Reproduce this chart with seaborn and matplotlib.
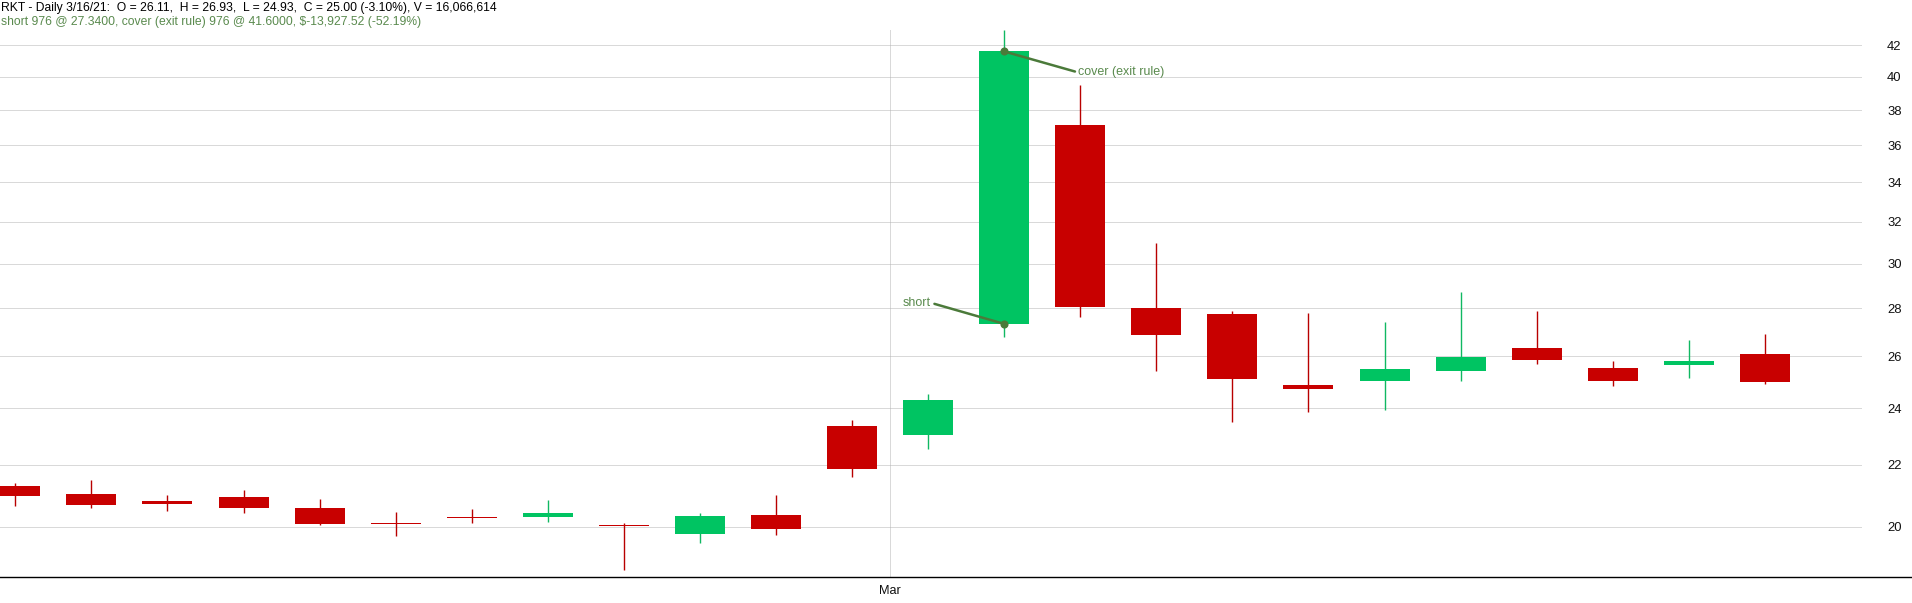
import matplotlib
matplotlib.use("Agg")
import matplotlib.pyplot as plt
from matplotlib.ticker import FixedLocator, FuncFormatter, NullLocator
import seaborn as sns
import pandas as pd
import numpy as np

# ---------------- data ----------------
dates = ["2021-02-10", "2021-02-11", "2021-02-12", "2021-02-16", "2021-02-17", "2021-02-18",
         "2021-02-19", "2021-02-22", "2021-02-23", "2021-02-24", "2021-02-25", "2021-02-26",
         "2021-03-01", "2021-03-02", "2021-03-03", "2021-03-04", "2021-03-05", "2021-03-08",
         "2021-03-09", "2021-03-10", "2021-03-11", "2021-03-12", "2021-03-15", "2021-03-16"]
opens = [21.30, 21.03, 20.81, 20.94, 20.58, 20.12, 20.31, 20.30, 20.06, 19.79, 20.36, 23.36,
         23.05, 27.34, 37.15, 28.03, 27.76, 24.88, 25.05, 25.44, 26.34, 25.54, 25.67, 26.11]
highs = [21.39, 21.49, 21.00, 21.16, 20.87, 20.46, 20.55, 20.84, 20.11, 20.43, 21.00, 23.58,
         24.54, 43.00, 39.51, 30.98, 27.89, 27.80, 27.42, 28.72, 27.89, 25.82, 26.67, 26.93]
lows = [20.66, 20.59, 20.50, 20.44, 20.06, 19.72, 20.12, 20.14, 18.72, 19.51, 19.75, 21.60,
        22.56, 26.80, 27.62, 25.44, 23.51, 23.88, 23.95, 25.05, 25.70, 24.86, 25.16, 24.93]
closes = [20.98, 20.69, 20.72, 20.59, 20.09, 20.08, 20.27, 20.43, 20.02, 20.33, 19.94, 21.87,
          24.31, 41.60, 28.07, 26.88, 25.12, 24.74, 25.50, 25.98, 25.86, 25.05, 25.82, 25.00]
y_ticks = [20, 22, 24, 26, 28, 30, 32, 34, 36, 38, 40, 42]
trade_dates = ["2021-03-02", "2021-03-02"]
trade_prices = [27.34, 41.60]
trade_labels = ["short", "cover (exit rule)"]
header1 = ("RKT - Daily 3/16/21:  O = 26.11,  H = 26.93,  L = 24.93,  "
           "C = 25.00 (-3.10%), V = 16,066,614")
header2 = ("short 976 @ 27.3400, cover (exit rule) 976 @ 41.6000, "
           "$-13,927.52 (-52.19%)")

df = pd.DataFrame({"date": pd.to_datetime(dates), "open": opens, "high": highs,
                   "low": lows, "close": closes})
df["pos"] = np.arange(len(df))
df["up"] = df["close"] >= df["open"]

# ---------------- style ----------------
sns.set_style("white")
plt.rcParams["font.family"] = ["Liberation Sans", "DejaVu Sans"]

UP = "#00c462"
UP_WICK = "#10b862"
DOWN = "#c80000"
DOWN_WICK = "#b80000"
GRID = "#b4b4b4"
TRADE_TXT = "#5a8a4e"
TRADE_LINE = "#4b7a3a"

W, H = 1912, 603
fig = plt.figure(figsize=(W / 100, H / 100), dpi=100)
ax_top_px, ax_bot_px = 30, 577
ax = fig.add_axes([0, (H - ax_bot_px) / H, 1, (ax_bot_px - ax_top_px) / H])

x0_px, step_px = 15.3, 76.07
ax.set_xlim((0 - x0_px) / step_px, (W - x0_px) / step_px)
grid_right = (1861 - x0_px) / step_px
ax.set_yscale("log")
ax.set_ylim(18.51, 43.0)

# grid
xl = ax.get_xlim()
ax.hlines(y_ticks, xl[0], grid_right, colors=GRID, linewidth=0.72,
          linestyles=(0, (1, 1)), zorder=0)
month = df["date"].dt.month.values
mar_pos = df["pos"][np.argmax(month == 3)] - 0.5
ax.axvline(mar_pos, color=GRID, linewidth=0.72, linestyle=(0, (1, 1)), zorder=0)

# candles
wick_colors = np.where(df["up"], UP_WICK, DOWN_WICK)
body_colors = np.where(df["up"], UP, DOWN)
ax.vlines(df["pos"], df["low"], df["high"], colors=wick_colors, linewidth=1.0, zorder=2)
body_bottom = np.minimum(df["open"], df["close"])
body_height = np.abs(df["close"] - df["open"])
ax.bar(df["pos"], body_height, bottom=body_bottom, width=50 / step_px,
       color=body_colors, linewidth=0, zorder=3)

# trades
tpos = [df.loc[df["date"] == pd.Timestamp(d), "pos"].iloc[0] for d in trade_dates]
tdf = pd.DataFrame({"pos": tpos, "price": trade_prices})
sns.scatterplot(data=tdf, x="pos", y="price", ax=ax, color=TRADE_LINE, s=34,
                linewidth=0, zorder=5, legend=False)
offsets = [(-52.6, 15.1), (53.3, -15.1)]
aligns = ["right", "left"]
relposes = [(1, 0.5), (0, 0.5)]
for p, pr, lab, off, ha, rp in zip(tpos, trade_prices, trade_labels, offsets, aligns, relposes):
    ax.annotate(lab, xy=(p, pr), xytext=off, textcoords="offset points",
                ha=ha, va="center", fontsize=9, color=TRADE_TXT, zorder=6,
                arrowprops=dict(arrowstyle="-", color=TRADE_LINE, lw=1.8,
                                shrinkA=0, shrinkB=0, relpos=rp))

# axes
for s in ["top", "left", "right"]:
    ax.spines[s].set_visible(False)
ax.spines["bottom"].set_color("black")
ax.spines["bottom"].set_linewidth(1.0)
ax.yaxis.tick_right()
ax.yaxis.set_major_locator(FixedLocator(y_ticks))
ax.yaxis.set_minor_locator(NullLocator())
ax.yaxis.set_major_formatter(FuncFormatter(lambda v, _: f"{v:.0f}"))
ax.tick_params(axis="y", length=0, pad=-18.0, labelsize=9.4, labelcolor="#111111")
ax.set_xticks([mar_pos])
ax.set_xticklabels(["Mar"])
ax.tick_params(axis="x", length=0, pad=6, labelsize=9.2, labelcolor="#111111")
ax.set_xlabel("")
ax.set_ylabel("")
ax.grid(False)
ax.set_facecolor("white")

# header
fig.text(1 / W, 1 - 11 / H, header1, fontsize=8.7, color="black", va="baseline", ha="left")
fig.text(1 / W, 1 - 25.5 / H, header2, fontsize=8.7, color=TRADE_TXT, va="baseline", ha="left")

fig.savefig("out.png", dpi=100, facecolor="white")
